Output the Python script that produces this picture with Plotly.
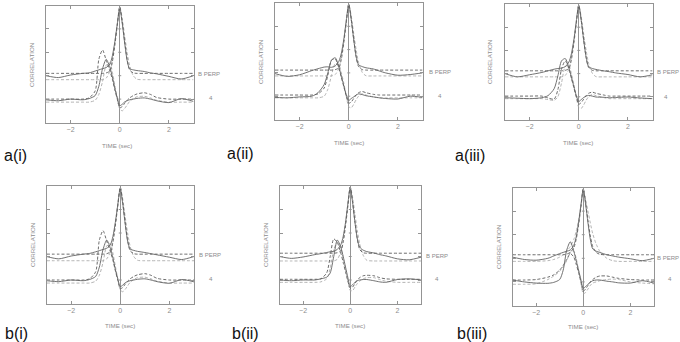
import plotly.graph_objects as go

# ---------------- data ----------------
TIME = [-3, -2.5, -2, -1.5, -1.25, -1, -0.85, -0.7, -0.55, -0.4, -0.3, -0.2, -0.1,
        0, 0.1, 0.2, 0.3, 0.4, 0.55, 0.7, 1, 1.25, 1.5, 2, 2.5, 3]
X_TICKS = [-2, 0, 2]
Y_TICKS = [1, 2, 3, 4]
PANEL_LABELS = ["a(i)", "a(ii)", "a(iii)", "b(i)", "b(ii)", "b(iii)"]
UPPER_LABEL = "B PERP"
LOWER_LABEL = "4"

# a(i)
AI_BP_SOLID = [2.0, 1.92, 2.03, 2.1, 2.12, 2.2, 2.25, 2.3, 2.35, 2.5, 2.85, 3.45, 4.2, 4.9, 4.25, 3.4, 2.65, 2.3, 2.25, 2.22, 2.18, 2.12, 2.08, 1.97, 1.86, 2.0]
AI_BP_DASH = [2.1, 2.1, 2.1, 2.1, 2.1, 2.1, 2.1, 2.1, 2.12, 2.2, 2.6, 3.3, 4.15, 4.95, 4.3, 3.45, 2.7, 2.25, 2.12, 2.1, 2.1, 2.1, 2.1, 2.1, 2.1, 2.1]
AI_BP_DOT = [1.83, 1.83, 1.83, 1.83, 1.83, 1.83, 1.83, 1.83, 1.9, 2.2, 2.7, 3.4, 4.25, 4.95, 4.45, 3.7, 3.0, 2.45, 2.0, 1.85, 1.83, 1.83, 1.83, 1.83, 1.83, 1.83]
AI_Q4_SOLID = [0.97, 0.93, 1.0, 0.97, 1.02, 1.15, 1.55, 2.3, 2.7, 2.35, 1.95, 1.45, 1.05, 0.72, 0.78, 0.88, 0.93, 0.97, 1.0, 1.03, 1.05, 1.0, 0.93, 0.85, 1.02, 0.9]
AI_Q4_DASH = [1.0, 1.0, 1.0, 1.0, 1.05, 1.35, 2.7, 3.1, 2.65, 2.2, 1.85, 1.4, 1.0, 0.63, 0.68, 0.82, 0.95, 1.05, 1.15, 1.22, 1.27, 1.2, 1.07, 1.0, 1.0, 1.0]
AI_Q4_DOT = [0.87, 0.87, 0.87, 0.87, 0.87, 0.95, 1.2, 1.75, 2.45, 2.55, 2.15, 1.6, 1.05, 0.58, 0.5, 0.6, 0.75, 0.9, 1.02, 1.1, 1.12, 1.05, 0.95, 0.87, 0.87, 0.87]

# a(ii)
AII_BP_SOLID = [1.97, 1.85, 1.92, 2.1, 2.18, 2.25, 2.26, 2.24, 2.3, 2.5, 2.85, 3.45, 4.25, 4.95, 4.3, 3.45, 2.7, 2.35, 2.27, 2.22, 2.17, 2.08, 2.0, 1.9, 1.93, 2.0]
AII_BP_DASH = [2.12, 2.12, 2.12, 2.12, 2.12, 2.12, 2.12, 2.12, 2.14, 2.22, 2.6, 3.3, 4.15, 4.95, 4.3, 3.45, 2.7, 2.27, 2.14, 2.12, 2.12, 2.12, 2.12, 2.12, 2.12, 2.12]
AII_BP_DOT = [1.87, 1.87, 1.87, 1.87, 1.87, 1.87, 1.87, 1.87, 1.93, 2.2, 2.7, 3.4, 4.25, 4.95, 4.45, 3.7, 3.0, 2.45, 2.02, 1.88, 1.87, 1.87, 1.87, 1.87, 1.87, 1.87]
AII_Q4_SOLID = [0.95, 0.93, 0.97, 1.0, 1.15, 1.5, 2.0, 2.55, 2.65, 2.25, 1.85, 1.45, 1.05, 0.82, 0.9, 0.97, 1.05, 1.1, 1.07, 1.02, 0.97, 0.93, 0.9, 0.88, 1.0, 0.95]
AII_Q4_DASH = [1.05, 1.05, 1.05, 1.05, 1.1, 1.35, 1.9, 2.55, 2.6, 2.2, 1.8, 1.4, 1.0, 0.7, 0.75, 0.9, 1.05, 1.15, 1.2, 1.15, 1.08, 1.05, 1.05, 1.05, 1.05, 1.05]
AII_Q4_DOT = [0.93, 0.93, 0.93, 0.93, 0.93, 1.0, 1.3, 1.9, 2.4, 2.35, 2.0, 1.55, 1.0, 0.55, 0.5, 0.65, 0.85, 1.0, 1.1, 1.05, 0.97, 0.93, 0.93, 0.93, 0.93, 0.93]

# a(iii)
AIII_BP_SOLID = [2.0, 1.86, 1.95, 2.05, 2.12, 2.19, 2.22, 2.24, 2.3, 2.5, 2.85, 3.45, 4.25, 4.95, 4.3, 3.45, 2.7, 2.3, 2.22, 2.18, 2.12, 2.08, 2.03, 1.96, 1.86, 1.95]
AIII_BP_DASH = [2.12, 2.12, 2.12, 2.12, 2.12, 2.12, 2.12, 2.12, 2.14, 2.22, 2.6, 3.3, 4.15, 4.95, 4.3, 3.45, 2.7, 2.27, 2.14, 2.12, 2.12, 2.12, 2.12, 2.12, 2.12, 2.12]
AIII_BP_DOT = [1.86, 1.86, 1.86, 1.86, 1.86, 1.86, 1.86, 1.86, 1.92, 2.2, 2.7, 3.4, 4.25, 4.95, 4.45, 3.7, 3.0, 2.45, 2.02, 1.87, 1.86, 1.86, 1.86, 1.86, 1.86, 1.86]
AIII_Q4_SOLID = [0.96, 0.94, 0.92, 0.96, 1.05, 1.35, 1.9, 2.55, 2.65, 2.25, 1.85, 1.45, 1.05, 0.8, 0.88, 0.97, 1.03, 1.06, 1.03, 0.99, 0.98, 0.96, 0.97, 0.99, 0.95, 0.92]
AIII_Q4_DASH = [1.03, 1.03, 1.03, 1.03, 0.95, 0.9, 1.3, 2.2, 2.55, 2.2, 1.8, 1.4, 1.0, 0.68, 0.75, 0.9, 1.05, 1.15, 1.2, 1.15, 1.08, 1.03, 1.03, 1.03, 1.03, 1.03]
AIII_Q4_DOT = [0.92, 0.92, 0.92, 0.92, 0.88, 0.85, 1.0, 1.6, 2.3, 2.35, 2.0, 1.55, 1.0, 0.55, 0.5, 0.65, 0.85, 1.0, 1.1, 1.05, 0.97, 0.92, 0.92, 0.92, 0.92, 0.92]

# b(i)
BI_BP_SOLID = [2.0, 1.9, 2.02, 2.1, 2.13, 2.2, 2.25, 2.3, 2.35, 2.5, 2.85, 3.45, 4.2, 4.9, 4.25, 3.4, 2.65, 2.32, 2.26, 2.22, 2.17, 2.12, 2.07, 1.97, 1.87, 2.0]
BI_BP_DASH = [2.1, 2.1, 2.1, 2.1, 2.1, 2.1, 2.1, 2.1, 2.12, 2.2, 2.6, 3.3, 4.15, 4.95, 4.3, 3.45, 2.7, 2.25, 2.12, 2.1, 2.1, 2.1, 2.1, 2.1, 2.1, 2.1]
BI_BP_DOT = [1.82, 1.82, 1.82, 1.82, 1.82, 1.82, 1.82, 1.82, 1.9, 2.2, 2.7, 3.4, 4.25, 4.95, 4.45, 3.7, 3.0, 2.45, 2.0, 1.84, 1.82, 1.82, 1.82, 1.82, 1.82, 1.82]
BI_Q4_SOLID = [0.97, 0.93, 1.0, 0.97, 1.02, 1.15, 1.55, 2.3, 2.7, 2.35, 1.95, 1.45, 1.05, 0.72, 0.78, 0.88, 0.93, 0.97, 1.0, 1.03, 1.05, 1.0, 0.93, 0.86, 1.02, 0.92]
BI_Q4_DASH = [1.0, 1.0, 1.0, 1.0, 1.05, 1.35, 2.7, 3.1, 2.65, 2.2, 1.85, 1.4, 1.0, 0.63, 0.68, 0.82, 0.95, 1.05, 1.15, 1.22, 1.27, 1.2, 1.07, 1.0, 1.0, 1.0]
BI_Q4_DOT = [0.87, 0.87, 0.87, 0.87, 0.87, 0.95, 1.2, 1.75, 2.45, 2.55, 2.15, 1.6, 1.05, 0.58, 0.5, 0.6, 0.75, 0.9, 1.02, 1.1, 1.12, 1.05, 0.95, 0.87, 0.87, 0.87]

# b(ii)
BII_BP_SOLID = [2.0, 1.92, 1.98, 2.08, 2.12, 2.17, 2.2, 2.22, 2.3, 2.5, 2.85, 3.45, 4.25, 4.95, 4.3, 3.45, 2.75, 2.4, 2.27, 2.21, 2.15, 2.08, 2.03, 1.9, 1.86, 1.97]
BII_BP_DASH = [2.14, 2.14, 2.14, 2.14, 2.14, 2.14, 2.14, 2.14, 2.16, 2.24, 2.6, 3.3, 4.15, 4.95, 4.3, 3.45, 2.75, 2.3, 2.16, 2.14, 2.14, 2.14, 2.14, 2.14, 2.14, 2.14]
BII_BP_DOT = [1.81, 1.81, 1.81, 1.81, 1.81, 1.81, 1.81, 1.81, 1.88, 2.2, 2.7, 3.4, 4.25, 4.95, 4.5, 3.8, 3.1, 2.55, 2.05, 1.84, 1.81, 1.81, 1.81, 1.81, 1.81, 1.81]
BII_Q4_SOLID = [1.0, 0.97, 1.0, 1.0, 1.05, 1.12, 1.3, 2.0, 2.7, 2.4, 2.0, 1.55, 1.1, 0.72, 0.8, 0.9, 0.97, 1.0, 1.02, 1.02, 0.97, 0.92, 0.9, 1.02, 1.05, 1.0]
BII_Q4_DASH = [1.03, 1.03, 1.03, 1.03, 1.05, 1.3, 2.0, 2.75, 2.6, 2.15, 1.75, 1.35, 0.95, 0.65, 0.7, 0.85, 1.0, 1.1, 1.18, 1.2, 1.18, 1.1, 1.05, 1.03, 1.03, 1.03]
BII_Q4_DOT = [0.9, 0.9, 0.9, 0.9, 0.92, 1.05, 1.5, 2.3, 2.6, 2.35, 1.95, 1.45, 0.95, 0.55, 0.55, 0.7, 0.85, 0.95, 1.05, 1.1, 1.1, 1.02, 0.95, 0.9, 0.9, 0.9]

# b(iii)
BIII_BP_SOLID = [2.05, 1.95, 1.92, 2.0, 2.1, 2.2, 2.25, 2.3, 2.35, 2.55, 2.9, 3.5, 4.25, 4.92, 4.3, 3.5, 2.8, 2.4, 2.3, 2.25, 2.15, 2.1, 2.05, 1.98, 1.9, 2.0]
BIII_BP_DASH = [2.15, 2.15, 2.15, 2.15, 2.15, 2.15, 2.15, 2.18, 2.25, 2.45, 2.8, 3.4, 4.15, 4.95, 4.35, 3.6, 2.95, 2.5, 2.25, 2.17, 2.15, 2.15, 2.15, 2.15, 2.15, 2.15]
BIII_BP_DOT = [1.87, 1.87, 1.87, 1.9, 1.95, 2.05, 2.15, 2.3, 2.5, 2.8, 3.15, 3.6, 4.2, 4.95, 4.5, 4.0, 3.5, 3.05, 2.6, 2.3, 2.0, 1.9, 1.87, 1.87, 1.87, 1.87]
BIII_Q4_SOLID = [1.08, 1.0, 0.95, 0.94, 0.98, 1.1, 1.5, 2.35, 2.7, 2.3, 1.9, 1.5, 1.1, 0.73, 0.8, 0.9, 0.98, 1.05, 1.08, 1.08, 1.03, 1.0, 0.96, 0.95, 1.05, 0.95]
BIII_Q4_DASH = [1.08, 1.08, 1.1, 1.2, 1.3, 1.5, 1.7, 1.95, 2.2, 2.05, 1.75, 1.4, 1.0, 0.6, 0.7, 0.85, 1.0, 1.1, 1.2, 1.25, 1.25, 1.2, 1.15, 1.1, 1.08, 1.08]
BIII_Q4_DOT = [0.9, 0.9, 0.92, 1.1, 1.25, 1.45, 1.65, 1.9, 2.25, 2.3, 2.0, 1.5, 1.0, 0.5, 0.55, 0.7, 0.85, 0.95, 1.0, 1.05, 1.1, 1.12, 1.1, 1.0, 0.95, 0.92]

PANEL_SERIES = [
    (AI_BP_SOLID, AI_BP_DASH, AI_BP_DOT, AI_Q4_SOLID, AI_Q4_DASH, AI_Q4_DOT),
    (AII_BP_SOLID, AII_BP_DASH, AII_BP_DOT, AII_Q4_SOLID, AII_Q4_DASH, AII_Q4_DOT),
    (AIII_BP_SOLID, AIII_BP_DASH, AIII_BP_DOT, AIII_Q4_SOLID, AIII_Q4_DASH, AIII_Q4_DOT),
    (BI_BP_SOLID, BI_BP_DASH, BI_BP_DOT, BI_Q4_SOLID, BI_Q4_DASH, BI_Q4_DOT),
    (BII_BP_SOLID, BII_BP_DASH, BII_BP_DOT, BII_Q4_SOLID, BII_Q4_DASH, BII_Q4_DOT),
    (BIII_BP_SOLID, BIII_BP_DASH, BIII_BP_DOT, BIII_Q4_SOLID, BIII_Q4_DASH, BIII_Q4_DOT),
]

# ---------------- layout (pixels of the 680x342 page) ----------------
W, H = 680, 342
# box: x0, x1, y0(top), y1(bottom)
BOXES = [
    (46, 193.5, 5.5, 122.5),
    (275, 422.5, 3, 119.5),
    (505, 652.5, 4, 120),
    (46.5, 194, 186, 303.5),
    (279.5, 421, 186, 303.5),
    (512.5, 654, 187.5, 305.5),
]
TEXT_POS = [
    dict(lab=(2, 155), time=(117, 145), corr=(32, 65), bp=(196, 74), q4=(211, 98)),
    dict(lab=(225, 153), time=(349, 142), corr=(260, 62), bp=(427, 72), q4=(440, 95)),
    dict(lab=(453, 155), time=(578, 142), corr=(489, 62), bp=(655, 72), q4=(666, 96)),
    dict(lab=(3, 333), time=(120, 325), corr=(32, 245), bp=(197, 255), q4=(211, 278)),
    dict(lab=(230, 333), time=(350, 325), corr=(265, 245), bp=(424, 256), q4=(437, 278)),
    dict(lab=(455, 333), time=(583, 326), corr=(498, 247), bp=(655, 258), q4=(670, 278)),
]

SOLID_C = "#626262"
DASH_C = "#5a5a5a"
DOT_C = "#ababab"
AXIS_C = "#949494"
TEXT_C = "#8c8c8c"

def px(x):
    return x / W

def py(y):
    return 1 - y / H

fig = go.Figure()
layout = dict(
    width=W, height=H, margin=dict(l=0, r=0, t=0, b=0),
    paper_bgcolor="white", plot_bgcolor="white", showlegend=False,
)
annotations = []
shapes = []

styles = [
    dict(color=SOLID_C, width=0.9),
    dict(color=DASH_C, width=0.9, dash="3px,2px"),
    dict(color=DOT_C, width=0.9, dash="3px,2px"),
]

for i, (box, series, tp) in enumerate(zip(BOXES, PANEL_SERIES, TEXT_POS)):
    n = "" if i == 0 else str(i + 1)
    xa, ya = "x" + n, "y" + n
    x0, x1, y0, y1 = box
    layout["xaxis" + n] = dict(
        domain=[px(x0), px(x1)], range=[-3, 3], anchor=ya,
        tickvals=X_TICKS, ticks="inside", ticklen=3, tickcolor=AXIS_C,
        showline=True, linecolor=AXIS_C, linewidth=1, mirror="ticks",
        showgrid=False, zeroline=True, zerolinecolor=AXIS_C, zerolinewidth=1,
        tickfont=dict(family="Liberation Sans, Arial", size=7, color=TEXT_C),
        fixedrange=True,
    )
    layout["yaxis" + n] = dict(
        domain=[py(y1), py(y0)], range=[0, 5], anchor=xa,
        tickvals=Y_TICKS, ticks="inside", ticklen=3, tickcolor=AXIS_C,
        showticklabels=False, showline=True, linecolor=AXIS_C, linewidth=1,
        mirror="ticks", showgrid=False, zeroline=False, fixedrange=True,
    )
    order = [2, 5, 1, 4, 0, 3]
    for k in order:
        st = styles[k % 3]
        fig.add_trace(go.Scatter(
            x=TIME, y=series[k], xaxis=xa, yaxis=ya, mode="lines",
            line=dict(color=st["color"], width=st["width"], dash=st.get("dash", "solid"),
                      shape="spline", smoothing=0.7),
            hoverinfo="skip",
        ))
    for yv in Y_TICKS:
        shapes.append(dict(type="line", xref=xa, yref=ya, x0=-0.06, x1=0.06, y0=yv, y1=yv,
                           line=dict(color=AXIS_C, width=1)))
    tfont = dict(family="Liberation Sans, Arial", size=6.2, color=TEXT_C)
    annotations += [
        dict(text=PANEL_LABELS[i], x=px(tp["lab"][0]), y=py(tp["lab"][1]), xref="paper", yref="paper",
             xanchor="left", yanchor="middle", showarrow=False,
             font=dict(family="Liberation Sans, Arial", size=16, color="#111")),
        dict(text="TIME (sec)", x=px(tp["time"][0]), y=py(tp["time"][1]), xref="paper", yref="paper",
             xanchor="center", yanchor="middle", showarrow=False, font=tfont),
        dict(text="CORRELATION", x=px(tp["corr"][0]), y=py(tp["corr"][1]), xref="paper", yref="paper",
             xanchor="center", yanchor="middle", showarrow=False, textangle=-90, font=tfont),
        dict(text=UPPER_LABEL, x=px(tp["bp"][0]), y=py(tp["bp"][1]), xref="paper", yref="paper",
             xanchor="left", yanchor="middle", showarrow=False, font=dict(family="Liberation Sans, Arial", size=6, color=TEXT_C)),
        dict(text=LOWER_LABEL, x=px(tp["q4"][0]), y=py(tp["q4"][1]), xref="paper", yref="paper",
             xanchor="center", yanchor="middle", showarrow=False, font=tfont),
    ]

layout["annotations"] = annotations
layout["shapes"] = shapes
fig.update_layout(**layout)
fig.write_html("out.html")
